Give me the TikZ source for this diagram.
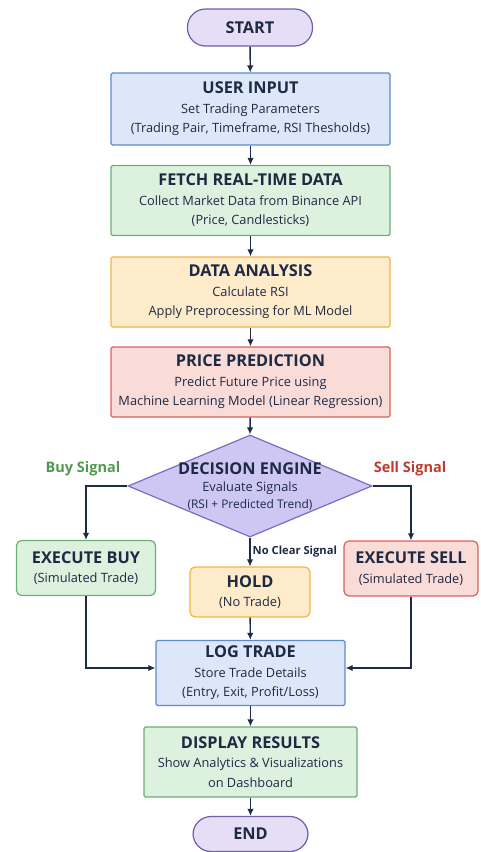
\documentclass[tikz,border=0pt]{standalone}
\usepackage{fontspec}
\setmainfont{Open Sans}
\usetikzlibrary{arrows.meta,shapes.geometric}

\definecolor{ink}{HTML}{1E2A44}
\definecolor{arrowc}{HTML}{1C2B48}
\definecolor{termfill}{HTML}{E6DEF6}
\definecolor{termline}{HTML}{6E5FA6}
\definecolor{bluefill}{HTML}{DCE8FA}
\definecolor{blueline}{HTML}{5B8AD2}
\definecolor{greenfill}{HTML}{DDF1DF}
\definecolor{greenline}{HTML}{6DAE75}
\definecolor{orangefill}{HTML}{FDEBC9}
\definecolor{orangeline}{HTML}{F0B646}
\definecolor{redfill}{HTML}{F9DBD8}
\definecolor{redline}{HTML}{D8635D}
\definecolor{diafill}{HTML}{CEC7F4}
\definecolor{dialine}{HTML}{7B6CC6}
\definecolor{buyc}{HTML}{4F9A52}
\definecolor{sellc}{HTML}{C2392E}

\newcommand{\ttl}{\bfseries\fontsize{16.3}{19.5}\selectfont}

\tikzset{
  terminal/.style={draw=termline, fill=termfill, line width=1.2pt, minimum width=125pt,
    minimum height=37pt, rounded corners=18pt, text=ink, font=\bfseries\fontsize{16.3}{18}\selectfont},
  box/.style={draw, line width=1.2pt, minimum width=279pt, minimum height=70pt, align=center,
    text=ink, inner sep=2pt, rounded corners=1.5pt, font=\fontsize{12.8}{19.5}\selectfont},
  smallbox/.style={box, rounded corners=5pt},
  decision/.style={diamond, draw=dialine, fill=diafill, line width=1.2pt, inner sep=0pt,
    minimum width=244pt, minimum height=102pt},
  flow/.style={-{Latex[length=7pt,width=6.5pt]}, line width=1.4pt, draw=arrowc},
  siglabel/.style={font=\bfseries\fontsize{14.5}{16}\selectfont},
}

\begin{document}
\begin{tikzpicture}[x=1pt,y=-1pt]
  \useasboundingbox (0,0) rectangle (480,852);

  % main column
  \node[terminal] (start) at (250,27.5) {START};
  \node[box, draw=blueline, fill=bluefill, minimum height=72pt] (input) at (250.5,109)
    {{\ttl USER INPUT}\\ Set Trading Parameters\\ (Trading Pair, Timeframe, RSI Thesholds)};
  \node[box, draw=greenline, fill=greenfill] (fetch) at (250.5,200.5)
    {{\ttl FETCH REAL-TIME DATA}\\ Collect Market Data from Binance API\\ (Price, Candlesticks)};
  \node[box, draw=orangeline, fill=orangefill] (analysis) at (250.5,292)
    {{\ttl DATA ANALYSIS}\\ Calculate RSI\\ Apply Preprocessing for ML Model};
  \node[box, draw=redline, fill=redfill] (predict) at (250.5,382)
    {{\ttl PRICE PREDICTION}\\ Predict Future Price using\\ Machine Learning Model (Linear Regression)};

  % decision
  \node[decision] (engine) at (250,486) {};
  \node[align=center, text=ink, font=\fontsize{12.8}{17}\selectfont] (enginetxt) at (250,487)
    {{\ttl DECISION ENGINE}\\ Evaluate Signals\\ {\fontsize{11.9}{17}\selectfont (RSI + Predicted Trend)}};
  \node[siglabel, text=buyc] (buylbl) at (83,469) {Buy Signal};
  \node[siglabel, text=sellc] (selllbl) at (410,469) {Sell Signal};

  % outcomes
  \node[smallbox, draw=greenline, fill=greenfill, minimum width=139pt, minimum height=55pt] (buy) at (86,568)
    {{\ttl EXECUTE BUY}\\ (Simulated Trade)};
  \node[smallbox, draw=redline, fill=redfill, minimum width=134pt, minimum height=55pt] (sell) at (411,568.5)
    {{\ttl EXECUTE SELL}\\ (Simulated Trade)};
  \node[smallbox, draw=orangeline, fill=orangefill, minimum width=120pt, minimum height=50pt] (hold) at (250,592)
    {{\ttl HOLD}\\ (No Trade)};

  \node[box, draw=blueline, fill=bluefill, minimum width=189pt, minimum height=65pt] (log) at (250.5,673)
    {{\ttl LOG TRADE}\\ Store Trade Details\\ (Entry, Exit, Profit/Loss)};
  \node[box, draw=greenline, fill=greenfill, minimum width=213pt] (display) at (250.5,762)
    {{\ttl DISPLAY RESULTS}\\ Show Analytics \& Visualizations\\ on Dashboard};
  \node[terminal, minimum width=115pt, minimum height=35pt] (stop) at (250.5,834) {END};

  % connectors
  \draw[flow] (start) -- (input);
  \draw[flow] (input) -- (fetch);
  \draw[flow] (fetch) -- (analysis);
  \draw[flow] (analysis) -- (predict);
  \draw[flow] (predict) -- (engine.north);
  \draw[flow] (engine.west) -| (buy.north);
  \draw[flow] (engine.east) -| (sell.north);
  \draw[flow] (engine.south) -- node[right, text=ink, font=\bfseries\fontsize{11.2}{12}\selectfont, inner sep=2pt] {No Clear Signal} (hold.north);
  \draw[flow] (hold) -- (log);
  \draw[flow] (buy.south) |- ([yshift=5pt]log.west);
  \draw[flow] (sell.south) |- ([yshift=5pt]log.east);
  \draw[flow] (log) -- (display);
  \draw[flow] (display) -- (stop);
\end{tikzpicture}
\end{document}
